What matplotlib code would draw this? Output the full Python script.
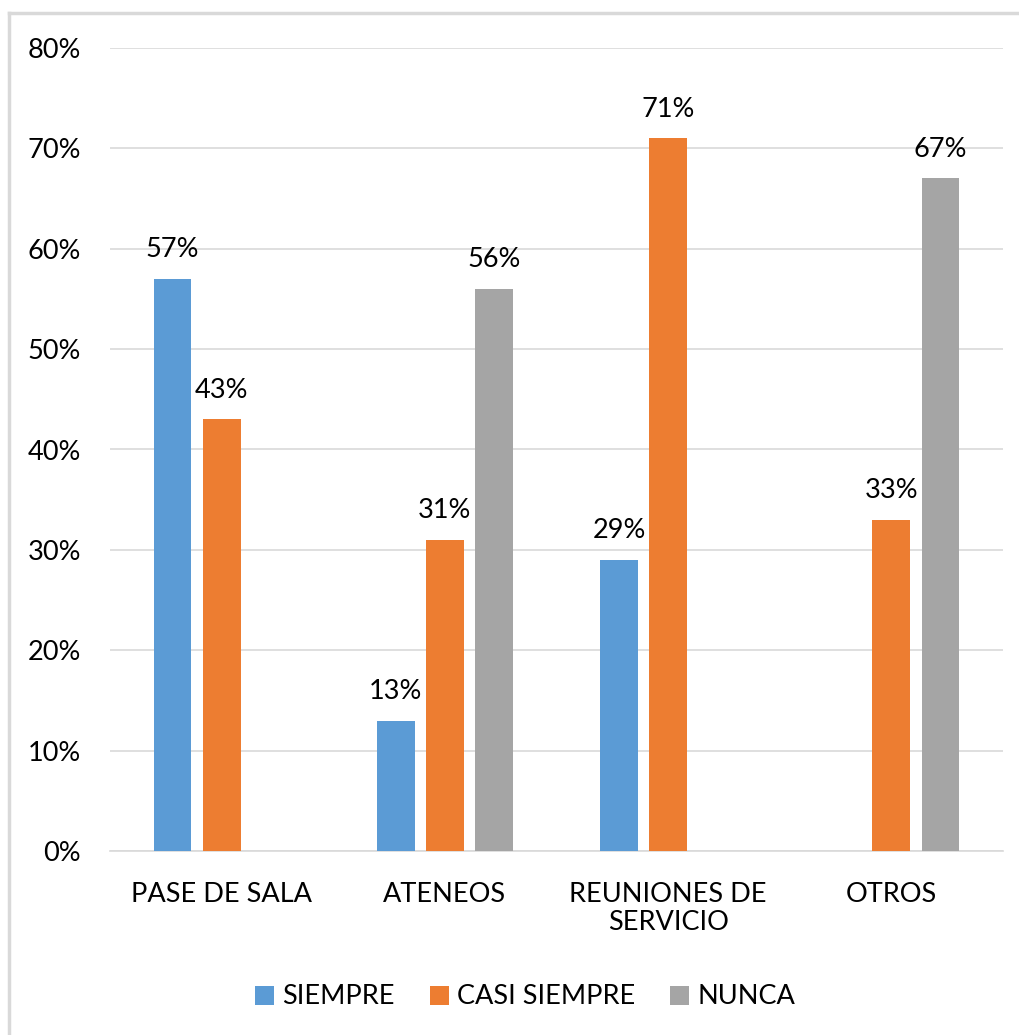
import numpy as np
import matplotlib.pyplot as plt
from matplotlib.lines import Line2D

plt.rcParams['font.family'] = ['Lato', 'DejaVu Sans']

categorias = ['PASE DE SALA', 'ATENEOS', 'REUNIONES DE\nSERVICIO', 'OTROS']
siempre = [57, 13, 29, 0]
casi_siempre = [43, 31, 71, 33]
nunca = [0, 56, 0, 67]
series = ['SIEMPRE', 'CASI SIEMPRE', 'NUNCA']
colores = ['#5B9BD5', '#ED7D31', '#A5A5A5']

fig = plt.figure(figsize=(10.19, 10.35), dpi=100)
ax = fig.add_axes([110/1019, 184/1035, 893/1019, 803/1035])

x = np.arange(len(categorias))
w = 0.17
off = 0.22
for k, (vals, nom, col) in enumerate(zip([siempre, casi_siempre, nunca], series, colores)):
    pos = x + (k - 1) * off
    ax.bar(pos, vals, w, color=col, label=nom, zorder=3)
    for p, v in zip(pos, vals):
        if v > 0:
            ax.annotate(f'{v}%', (p, v), xytext=(0, 12), textcoords='offset points',
                        ha='center', va='bottom', fontsize=19.5, color='#000000')

ax.set_xlim(-0.5, 3.5)
ax.set_ylim(0, 80)
ax.set_yticks(range(0, 81, 10))
ax.set_yticklabels([f'{t}%' for t in range(0, 81, 10)], fontsize=19.5)
ax.set_xticks(x)
ax.set_xticklabels(categorias, fontsize=19.5, linespacing=1.15)
ax.tick_params(axis='both', length=0)
ax.tick_params(axis='y', pad=21)
ax.tick_params(axis='x', pad=22)
ax.grid(axis='y', color='#D9D9D9', linewidth=1.2, zorder=0)
for s in ['top', 'right', 'left']:
    ax.spines[s].set_visible(False)
ax.spines['bottom'].set_color('#D9D9D9')
ax.spines['bottom'].set_linewidth(1.2)

ax.legend(loc='center', bbox_to_anchor=(525/1019, 38/1035), bbox_transform=fig.transFigure,
          ncol=3, frameon=False, fontsize=19.5, handlelength=0.7, handleheight=0.7,
          handletextpad=0.3, columnspacing=1.3)

# marco
fig.add_artist(Line2D([9/1019, 9/1019], [0, 1 - 13/1035], transform=fig.transFigure,
                      color='#D9D9D9', linewidth=2.5))
fig.add_artist(Line2D([9/1019, 1], [1 - 13/1035, 1 - 13/1035], transform=fig.transFigure,
                      color='#D9D9D9', linewidth=2.5))

fig.savefig('out.png', dpi=100)
